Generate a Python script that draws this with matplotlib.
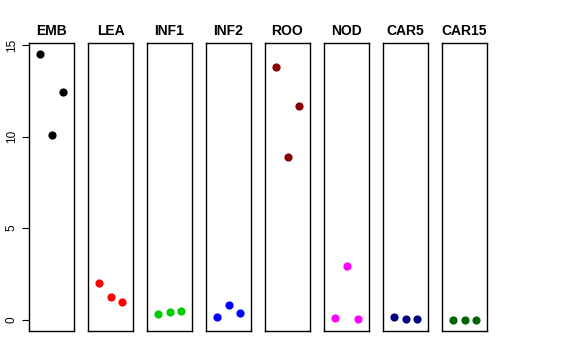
import matplotlib
matplotlib.use("Agg")
import matplotlib.pyplot as plt

plt.rcParams["font.family"] = ["Liberation Sans", "DejaVu Sans"]

# Panel names and colours
panels = ["EMB", "LEA", "INF1", "INF2", "ROO", "NOD", "CAR5", "CAR15"]
colors = ["black", "red", "#00CD00", "blue", "#8B0000", "magenta", "#000080", "#006400"]

# Three values per panel (x = 1, 2, 3)
emb = [14.53, 10.10, 12.43]
lea = [2.00, 1.24, 0.94]
inf1 = [0.33, 0.44, 0.49]
inf2 = [0.16, 0.82, 0.38]
roo = [13.78, 8.86, 11.66]
nod = [0.10, 2.95, 0.05]
car5 = [0.13, 0.05, 0.05]
car15 = [-0.02, -0.02, -0.02]
values = [emb, lea, inf1, inf2, roo, nod, car5, car15]
xs = [1, 2, 3]

yticks = [0, 5, 10, 15]

fig = plt.figure(figsize=(5.76, 3.6), dpi=100)
W, H = 576, 360
left0, step, pw = 29, 59, 45
top, bottom = 43, 330.7

ymin = min(min(v) for v in values)
ymax = max(max(v) for v in values)
pad = 0.04 * (ymax - ymin)

for i, (name, col, vals) in enumerate(zip(panels, colors, values)):
    ax = fig.add_axes([(left0 + i * step) / W, (H - bottom) / H, pw / W, (bottom - top) / H])
    ax.scatter(xs, vals, s=24, color=col, zorder=3)
    ax.set_xlim(0, 4)
    ax.set_ylim(ymin - pad, ymax + pad)
    ax.set_xticks([])
    ax.set_title(name, fontsize=10, fontweight="bold", pad=6)
    for sp in ax.spines.values():
        sp.set_linewidth(1)
        sp.set_color("black")
    if i == 0:
        ax.set_yticks(yticks)
        ax.set_yticklabels([str(t) for t in yticks], rotation=90, va="center", fontsize=8.5)
        ax.tick_params(axis="y", length=5, pad=3)
    else:
        ax.set_yticks([])

fig.savefig("out.png", dpi=100)
